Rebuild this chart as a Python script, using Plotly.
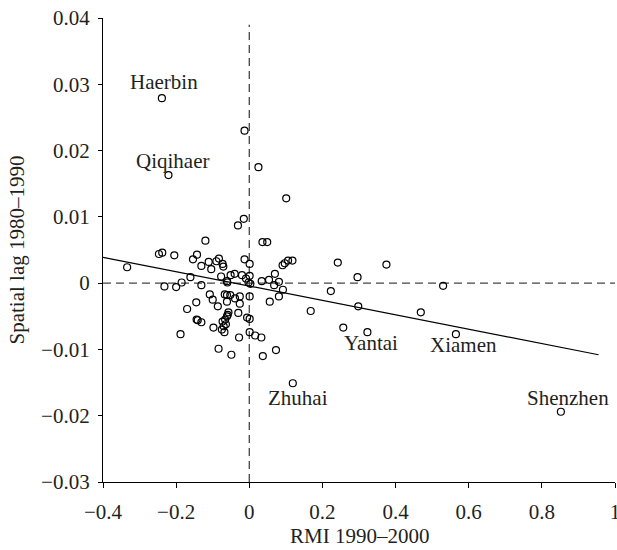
import plotly.graph_objects as go

# RMI 1990-2000 (x) and spatial lag 1980-1990 (y) for each city
rmi = [
    -0.239, -0.013, -0.221, 0.025, 0.101, -0.031, -0.015, -0.120, 0.036, 0.049,
    -0.334, -0.247, -0.238, -0.205, -0.143, -0.154, -0.131, -0.111, -0.104, -0.090,
    -0.083, -0.073, -0.071, -0.077, -0.061, -0.060, -0.051, -0.040, -0.020, -0.013,
    0.001, -0.009, 0.001, -0.002, 0.003, 0.034, 0.054, 0.070, 0.068, 0.081,
    0.092, 0.091, 0.097, 0.106, 0.118, -0.161, -0.185, -0.232, -0.200, -0.131,
    -0.108, -0.067, -0.061, -0.052, -0.026, 0.001, 0.081, 0.242, 0.296, 0.375,
    0.223, 0.530, 0.168, 0.298, 0.257, 0.323, 0.469, 0.565, 0.852, -0.100,
    -0.145, -0.170, -0.086, -0.061, -0.039, -0.026, -0.030, -0.057, -0.059, -0.061,
    -0.144, -0.141, -0.131, -0.098, -0.073, -0.066, -0.075, -0.068, -0.006, 0.001,
    0.056, -0.188, -0.028, 0.001, 0.016, 0.033, -0.084, -0.049, 0.037, 0.073,
    0.119, -0.064, -0.070,
]
spatial_lag = [
    0.0279, 0.0230, 0.0163, 0.0175, 0.0128, 0.0087, 0.0097, 0.0064, 0.0062, 0.0062,
    0.0024, 0.0044, 0.0046, 0.0042, 0.0043, 0.0036, 0.0026, 0.0032, 0.0021, 0.0033,
    0.0037, 0.0029, 0.0025, 0.0010, 0.0003, 0.0001, 0.0012, 0.0014, 0.0012, 0.0036,
    0.0029, 0.0007, 0.0011, 0.0001, -0.0001, 0.0003, 0.0005, 0.0014, -0.0003, 0.0002,
    -0.0010, 0.0027, 0.0030, 0.0034, 0.0034, 0.0009, 0.0001, -0.0005, -0.0006, -0.0003,
    -0.0017, -0.0017, -0.0018, -0.0018, -0.0020, -0.0020, -0.0020, 0.0031, 0.0009, 0.0028,
    -0.0012, -0.0004, -0.0042, -0.0035, -0.0067, -0.0074, -0.0044, -0.0077, -0.0194, -0.0025,
    -0.0029, -0.0039, -0.0035, -0.0028, -0.0023, -0.0031, -0.0045, -0.0044, -0.0048, -0.0050,
    -0.0055, -0.0056, -0.0059, -0.0067, -0.0058, -0.0055, -0.0070, -0.0074, -0.0052, -0.0054,
    -0.0028, -0.0077, -0.0082, -0.0074, -0.0079, -0.0082, -0.0099, -0.0108, -0.0110, -0.0101,
    -0.0151, -0.0062, -0.0065,
]

# Fitted regression line
fit_intercept = -0.00044
fit_slope = -0.01085
fit_x = [-0.4, 0.955]

# City labels
label_names = ["Haerbin", "Qiqihaer", "Zhuhai", "Yantai", "Xiamen", "Shenzhen"]
label_x = [-0.232, -0.210, 0.134, 0.334, 0.585, 0.872]
label_y = [0.0303, 0.0184, -0.0173, -0.0090, -0.0094, -0.0173]

# Axis ticks
x_ticks = [-0.4, -0.2, 0, 0.2, 0.4, 0.6, 0.8, 1]
x_ticktext = ["\u22120.4", "\u22120.2", "0", "0.2", "0.4", "0.6", "0.8", "1"]
y_ticks = [-0.03, -0.02, -0.01, 0, 0.01, 0.02, 0.03, 0.04]
y_ticktext = ["\u22120.03", "\u22120.02", "\u22120.01", "0", "0.01", "0.02", "0.03", "0.04"]

FONT = "Liberation Serif"
TXT = "#231f20"

fig = go.Figure()

fig.add_trace(go.Scatter(
    x=fit_x,
    y=[fit_intercept + fit_slope * v for v in fit_x],
    mode="lines",
    line=dict(color="black", width=1.2),
    hoverinfo="skip",
    showlegend=False,
))

fig.add_trace(go.Scatter(
    x=rmi, y=spatial_lag,
    mode="markers",
    marker=dict(symbol="circle-open", size=7, color="black", line=dict(width=1.2)),
    showlegend=False,
))

# dashed reference lines
fig.add_shape(type="line", xref="x", yref="y", x0=0, x1=0, y0=-0.03, y1=0.039,
              line=dict(color="#444444", width=1.3, dash="8px,5px"), layer="below")
fig.add_shape(type="line", xref="x", yref="y", x0=-0.4, x1=1, y0=0, y1=0,
              line=dict(color="#444444", width=1.3, dash="8px,5px"), layer="below")

for name, lx, ly in zip(label_names, label_x, label_y):
    fig.add_annotation(x=lx, y=ly, xref="x", yref="y", text=name, showarrow=False,
                       font=dict(family=FONT, size=21, color=TXT))

# axis titles
fig.add_annotation(x=0.5, y=-0.117, xref="paper", yref="paper", yanchor="middle",
                   text="RMI 1990\u20132000", showarrow=False,
                   font=dict(family=FONT, size=21, color=TXT))
fig.add_annotation(x=-0.167, y=0.5, xref="paper", yref="paper", xanchor="center",
                   yanchor="middle", borderpad=0,
                   text="Spatial lag 1980\u20131990", showarrow=False, textangle=-90,
                   font=dict(family=FONT, size=21, color=TXT))

fig.update_xaxes(
    range=[-0.4, 1], tickvals=x_ticks, ticktext=x_ticktext,
    showgrid=False, zeroline=False, showline=True, linecolor="black", linewidth=1.2,
    ticks="outside", ticklen=5, tickwidth=1.2, tickcolor="black",
    ticklabelstandoff=6, ticklabeloverflow="allow",
    tickfont=dict(family=FONT, size=21, color=TXT),
)
fig.update_yaxes(
    range=[-0.03, 0.04], tickvals=y_ticks, ticktext=y_ticktext,
    showgrid=False, zeroline=False, showline=True, linecolor="black", linewidth=1.2,
    ticks="outside", ticklen=4, tickwidth=1.2, tickcolor="black",
    ticklabelstandoff=4, ticklabeloverflow="allow",
    tickfont=dict(family=FONT, size=21, color=TXT),
)

fig.update_layout(
    width=617, height=550,
    margin=dict(l=103, r=2, t=18, b=68, autoexpand=False),
    plot_bgcolor="white", paper_bgcolor="white",
    showlegend=False,
)

fig.write_html("out.html", config={"displayModeBar": False},
               post_script="document.body.style.margin='0px';")
